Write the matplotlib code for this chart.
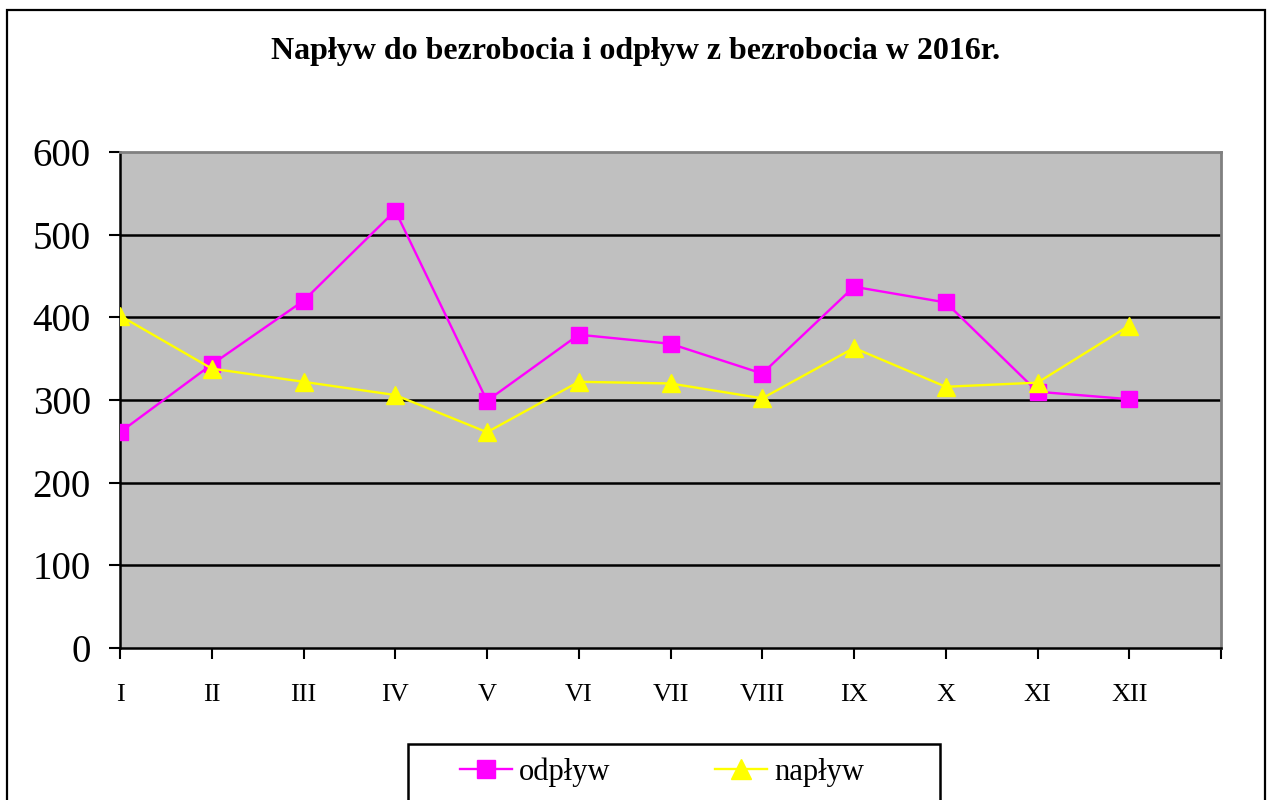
import matplotlib.pyplot as plt
from matplotlib.patches import Rectangle

# dane
miesiace = ['I', 'II', 'III', 'IV', 'V', 'VI', 'VII', 'VIII', 'IX', 'X', 'XI', 'XII']
odplyw = [261, 343, 420, 529, 299, 379, 368, 332, 437, 418, 310, 301]
naplyw = [402, 338, 322, 306, 261, 322, 320, 302, 363, 316, 321, 390]

plt.rcParams['font.family'] = ['Liberation Serif', 'DejaVu Serif']

fig = plt.figure(figsize=(12.71, 8), dpi=100)
ax = fig.add_axes([120 / 1271, 1 - 648 / 800, 1101 / 1271, 496 / 800])
ax.set_facecolor('#C0C0C0')

x = list(range(len(miesiace)))
ax.plot(x, odplyw, color='#FF00FF', lw=1.7, marker='s', markersize=11.5,
        label='odpływ', zorder=3)
ax.plot(x, naplyw, color='#FFFF00', lw=1.7, marker='^', markersize=12.5,
        label='napływ', zorder=3)

ax.set_xlim(0, 12)
ax.set_ylim(0, 600)
ax.set_yticks(range(0, 601, 100))
ax.set_xticks(range(0, 13))
ax.set_xticklabels(miesiace + [''])
ax.tick_params(axis='y', labelsize=28, length=8, width=1.5, direction='out', pad=13)
ax.tick_params(axis='x', labelsize=19, length=8, width=1.5, direction='out', pad=18)

for y in range(100, 600, 100):
    ax.axhline(y, color='black', lw=1.8, zorder=1)

ax.spines['left'].set_color('black')
ax.spines['bottom'].set_color('black')
ax.spines['left'].set_linewidth(1.8)
ax.spines['bottom'].set_linewidth(1.8)
ax.spines['top'].set_color('#808080')
ax.spines['right'].set_color('#808080')
ax.spines['top'].set_linewidth(2)
ax.spines['right'].set_linewidth(2)

fig.text(0.5, 1 - 51 / 800, 'Napływ do bezrobocia i odpływ z bezrobocia w 2016r.',
         ha='center', va='center', fontsize=23, fontweight='bold')

# ramka wykresu
fig.patches.append(Rectangle((7 / 1271, -0.01), 1258 / 1271, 1 - 10 / 800 + 0.01,
                             transform=fig.transFigure, fill=False,
                             edgecolor='black', lw=1.6))

# ramka legendy
fig.patches.append(Rectangle((408 / 1271, -0.01), 532 / 1271, 1 - 744 / 800 + 0.01,
                             transform=fig.transFigure, fill=False,
                             edgecolor='black', lw=1.8))

leg = fig.legend(loc='center', ncol=2,
                 bbox_to_anchor=(662 / 1271, 1 - 772 / 800),
                 fontsize=22, frameon=False, markerscale=1.1,
                 handlelength=1.7, handletextpad=0.25, columnspacing=3.4,
                 borderpad=0, borderaxespad=0)

fig.savefig('out.png', dpi=100)
